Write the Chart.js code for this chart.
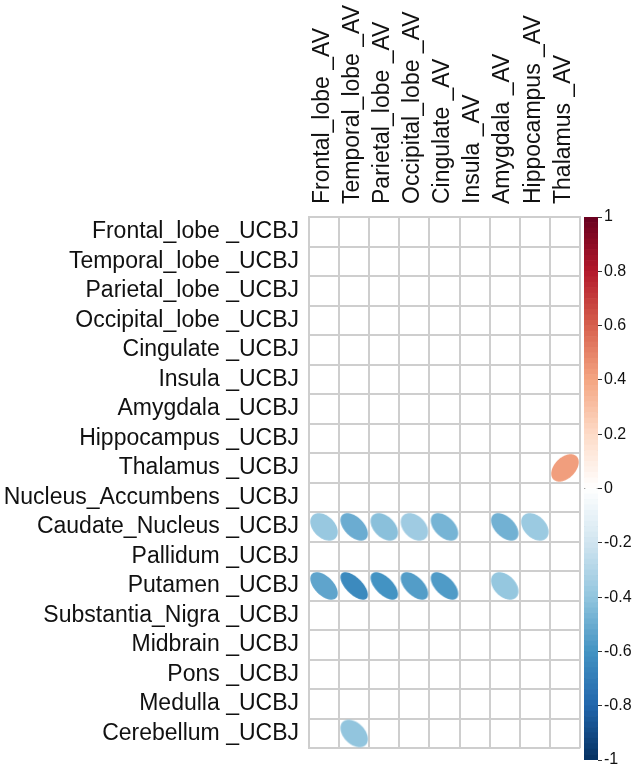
<!DOCTYPE html>
<html><head><meta charset="utf-8">
<script src="https://cdn.jsdelivr.net/npm/chart.js@4.4.1/dist/chart.umd.min.js"></script>
<style>
html,body{margin:0;padding:0;background:#fff;}
#wrap{position:relative;width:633px;height:772px;background:#fff;}
canvas{position:absolute;left:0;top:0;}
</style></head><body>
<div id="wrap"><canvas id="main" width="633" height="772"></canvas><canvas id="bar" width="633" height="772"></canvas></div>
<script>
// ---- data ----
const colLabels = ["Frontal_lobe _AV","Temporal_lobe _AV","Parietal_lobe _AV","Occipital_lobe _AV","Cingulate _AV","Insula _AV","Amygdala _AV","Hippocampus _AV","Thalamus _AV"];
const rowLabels = ["Frontal_lobe _UCBJ","Temporal_lobe _UCBJ","Parietal_lobe _UCBJ","Occipital_lobe _UCBJ","Cingulate _UCBJ","Insula _UCBJ","Amygdala _UCBJ","Hippocampus _UCBJ","Thalamus _UCBJ","Nucleus_Accumbens _UCBJ","Caudate_Nucleus _UCBJ","Pallidum _UCBJ","Putamen _UCBJ","Substantia_Nigra _UCBJ","Midbrain _UCBJ","Pons _UCBJ","Medulla _UCBJ","Cerebellum _UCBJ"];
// significant cells only (others blank)
const cellRow   = ["Thalamus _UCBJ","Caudate_Nucleus _UCBJ","Caudate_Nucleus _UCBJ","Caudate_Nucleus _UCBJ","Caudate_Nucleus _UCBJ","Caudate_Nucleus _UCBJ","Caudate_Nucleus _UCBJ","Caudate_Nucleus _UCBJ","Putamen _UCBJ","Putamen _UCBJ","Putamen _UCBJ","Putamen _UCBJ","Putamen _UCBJ","Putamen _UCBJ","Cerebellum _UCBJ"];
const cellCol   = ["Thalamus _AV","Frontal_lobe _AV","Temporal_lobe _AV","Parietal_lobe _AV","Occipital_lobe _AV","Cingulate _AV","Amygdala _AV","Hippocampus _AV","Frontal_lobe _AV","Temporal_lobe _AV","Parietal_lobe _AV","Occipital_lobe _AV","Cingulate _AV","Amygdala _AV","Temporal_lobe _AV"];
const cellValue = [0.42,-0.38,-0.50,-0.42,-0.36,-0.47,-0.48,-0.37,-0.53,-0.64,-0.60,-0.56,-0.57,-0.39,-0.40];
const colorbarTicks = [1,0.8,0.6,0.4,0.2,0,-0.2,-0.4,-0.6,-0.8,-1];
const paletteStops = ["#053061","#2166AC","#4393C3","#92C5DE","#D1E5F0","#FFFFFF","#FDDBC7","#F4A582","#D6604D","#B2182B","#67001F"];

// ---- helpers ----
function hex2rgb(h){return [parseInt(h.slice(1,3),16),parseInt(h.slice(3,5),16),parseInt(h.slice(5,7),16)];}
function colorFor(v){
  const t=(v+1)/2*(paletteStops.length-1);
  const i=Math.min(paletteStops.length-2,Math.max(0,Math.floor(t)));
  const f=t-i;const a=hex2rgb(paletteStops[i]),b=hex2rgb(paletteStops[i+1]);
  const c=a.map((x,k)=>Math.round(x+(b[k]-x)*f));
  return 'rgb('+c.join(',')+')';
}
function ellipseCanvas(rho,color){
  const W=32,H=32,sx=27.5,sy=27.5;
  const c=document.createElement('canvas');c.width=W;c.height=H;
  const g=c.getContext('2d');
  const d=Math.acos(rho);
  g.beginPath();
  for(let i=0;i<=120;i++){
    const k=i/120*2*Math.PI;
    const x=W/2+sx*Math.cos(k+d/2)/2;
    const y=H/2-sy*Math.cos(k-d/2)/2;
    if(i===0)g.moveTo(x,y);else g.lineTo(x,y);
  }
  g.closePath();g.fillStyle=color;g.fill();
  return c;
}
const images=cellValue.map(v=>ellipseCanvas(v,colorFor(v)));
const FONT="'Liberation Sans', Arial, Helvetica, sans-serif";
const gridColor='#cecece';

new Chart(document.getElementById('main'),{
  type:'scatter',
  data:{datasets:[{
    data:cellValue.map((v,i)=>({x:cellCol[i],y:cellRow[i],v:v})),
    pointStyle:ctx=>images[ctx.dataIndex],
    pointRadius:5
  }]},
  options:{
    responsive:false,animation:false,
    plugins:{legend:{display:false},tooltip:{enabled:false}},
    layout:{padding:{left:0,top:0,right:53,bottom:12}},
    scales:{
      x:{type:'category',labels:colLabels,position:'top',offset:true,
        grid:{offset:true,color:gridColor,lineWidth:2,drawTicks:false},
        border:{display:true,color:gridColor,width:2},
        ticks:{minRotation:90,maxRotation:90,autoSkip:false,padding:13,labelOffset:26,color:'#111',font:{family:FONT,size:23}},
        afterFit:s=>{s.height=217;}},
      y:{type:'category',labels:rowLabels,offset:true,
        grid:{offset:true,color:gridColor,lineWidth:2,drawTicks:false},
        border:{display:true,color:gridColor,width:2},
        ticks:{autoSkip:false,padding:10,color:'#111',font:{family:FONT,size:23}},
        afterFit:s=>{s.width=309;}}
    }
  }
});

// colour bar
const NSEG=100;
const segDatasets=[];
for(let i=0;i<NSEG;i++){
  const lo=-1+2*i/NSEG,hi=-1+2*(i+1)/NSEG;
  segDatasets.push({data:[[lo,hi]],backgroundColor:colorFor((lo+hi)/2),borderWidth:0,grouped:false,barPercentage:1,categoryPercentage:1});
}
segDatasets.push({data:[[-1,1]],backgroundColor:'rgba(0,0,0,0)',borderColor:'#333',borderWidth:1,borderSkipped:false,grouped:false,barPercentage:1,categoryPercentage:1});
new Chart(document.getElementById('bar'),{
  type:'bar',
  data:{labels:['colorbar'],datasets:segDatasets},
  options:{
    responsive:false,animation:false,
    plugins:{legend:{display:false},tooltip:{enabled:false}},
    layout:{padding:{left:584,top:217,right:0,bottom:12}},
    scales:{
      x:{display:false},
      y:{position:'right',min:-1,max:1,
        afterBuildTicks:a=>{a.ticks=colorbarTicks.map(v=>({value:v}));},
        ticks:{padding:2,color:'#111',font:{family:FONT,size:16},callback:v=>String(Math.round(v*10)/10)},
        grid:{drawOnChartArea:false,drawTicks:true,tickLength:4,color:'#333'},
        border:{display:false},
        afterFit:s=>{s.width=35;}}
    }
  }
});
</script>
</body></html>
